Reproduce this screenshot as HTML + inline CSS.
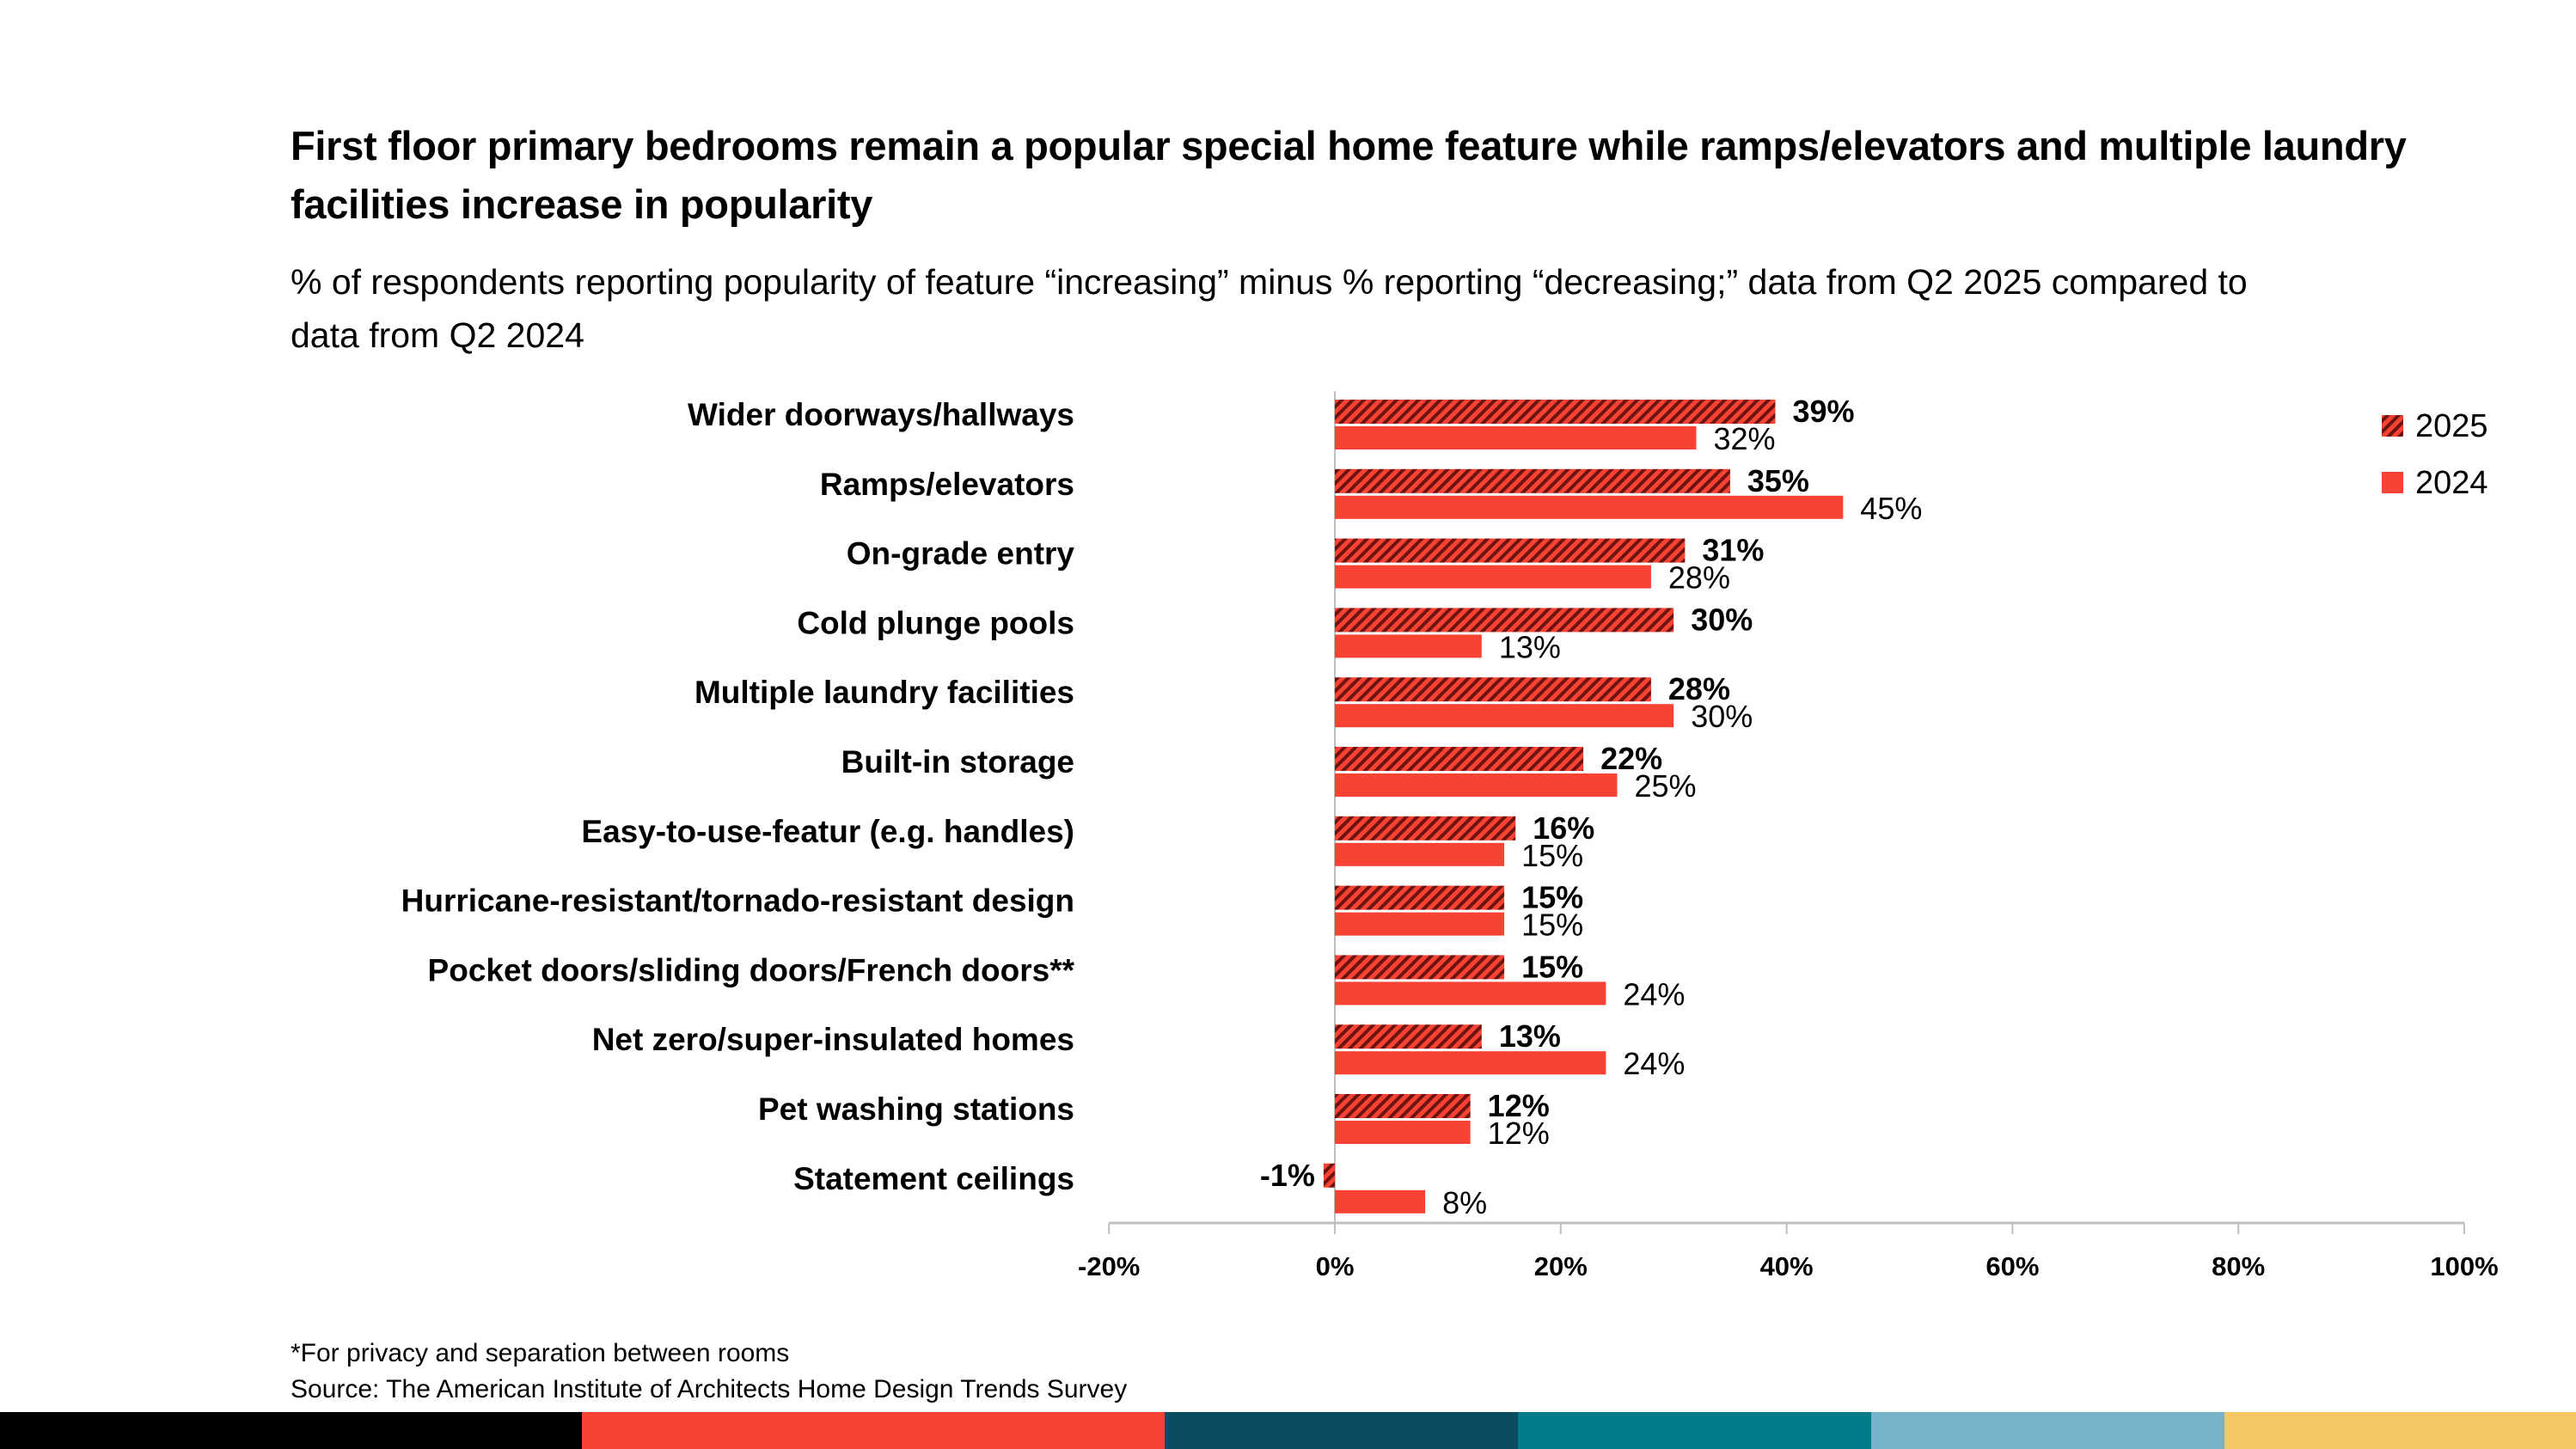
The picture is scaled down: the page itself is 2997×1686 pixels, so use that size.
<!DOCTYPE html>
<html><head><meta charset="utf-8">
<style>
html,body{margin:0;padding:0;background:#fff;}
body{width:2997px;height:1686px;position:relative;overflow:hidden;font-family:"Liberation Sans",sans-serif;}
.t{position:absolute;left:338px;color:#000;}
</style></head>
<body>
<div class="t" style="top:136px;font-size:47px;font-weight:bold;line-height:68px;letter-spacing:-0.3px;width:2640px;">First floor primary bedrooms remain a popular special home feature while ramps/elevators and multiple laundry facilities increase in popularity</div>
<div class="t" style="top:297px;font-size:41px;line-height:62px;width:2300px;">% of respondents reporting popularity of feature “increasing” minus % reporting “decreasing;” data from Q2 2025 compared to data from Q2 2024</div>
<div class="t" style="top:1558px;font-size:30px;">*For privacy and separation between rooms</div>
<div class="t" style="top:1600px;font-size:30px;">Source: The American Institute of Architects Home Design Trends Survey</div>
<div style="position:absolute;left:0;top:1643px;width:2997px;height:43px;display:flex;">
<div style="width:677px;background:#000"></div><div style="width:678px;background:#f84234"></div><div style="width:411px;background:#0a4d63"></div><div style="width:411px;background:#037b8a"></div><div style="width:411px;background:#76b2ca"></div><div style="flex:1;background:#f3c862"></div>
</div>
<svg id="chart" width="2997" height="1686" style="position:absolute;left:0;top:0" xmlns="http://www.w3.org/2000/svg">
<defs>
<pattern id="hatch" patternUnits="userSpaceOnUse" width="9" height="9" patternTransform="rotate(45)">
<rect width="9" height="9" fill="#f84234"/><rect width="4" height="9" fill="#6e1410"/>
</pattern>
</defs>
</svg>
<script>
const categories=["Wider doorways/hallways","Ramps/elevators","On-grade entry","Cold plunge pools","Multiple laundry facilities","Built-in storage","Easy-to-use-featur (e.g. handles)","Hurricane-resistant/tornado-resistant design","Pocket doors/sliding doors/French doors**","Net zero/super-insulated homes","Pet washing stations","Statement ceilings"];
const values2025=[39,35,31,30,28,22,16,15,15,13,12,-1];
const values2024=[32,45,28,13,30,25,15,15,24,24,12,8];
const ticks=[-20,0,20,40,60,80,100];
const svg=document.getElementById('chart');
const NS='http://www.w3.org/2000/svg';
const x=v=>1553+(v)*13.14;
const rowTop=i=>465+i*80.8;
const BH=28;
function mk(t,a,txt){const e=document.createElementNS(NS,t);for(const k in a)e.setAttribute(k,a[k]);if(txt!==undefined)e.textContent=txt;svg.appendChild(e);return e;}
// zero line
let zl=mk('line',{x1:x(0),x2:x(0),y1:455,y2:1423,stroke:'#bfbfbf','stroke-width':2});


// axis
let ax=mk('line',{x1:x(-20),x2:x(100),y1:1423,y2:1423,stroke:'#bfbfbf','stroke-width':3});


ticks.forEach(t=>{
 let tk=mk('line',{x1:x(t),x2:x(t),y1:1423,y2:1436,stroke:'#bfbfbf','stroke-width':2});
 
 
 let tl=mk('text',{x:x(t),y:1484,'text-anchor':'middle','font-size':31,'font-weight':'bold','font-family':'Liberation Sans, sans-serif'},t+'%');
 
 
});
categories.forEach((c,i)=>{
 const top=rowTop(i);
 let cl=mk('text',{x:1250,y:top+30,'text-anchor':'end','font-size':37,'font-weight':'bold','font-family':'Liberation Sans, sans-serif'},c);
 
 
 const a=values2025[i],b=values2024[i];
 let r1=mk('rect',{x:Math.min(x(0),x(a)),y:top,width:Math.abs(x(a)-x(0)),height:BH,fill:'url(#hatch)'});
 
 
 let r2=mk('rect',{x:Math.min(x(0),x(b)),y:top+31,width:Math.abs(x(b)-x(0)),height:BH-1,fill:'#f84234'});
 
 
 let l1=mk('text',{x:a>=0?x(a)+20:x(a)-10,y:top+26,'text-anchor':a>=0?'start':'end','font-size':36,'font-weight':'bold','font-family':'Liberation Sans, sans-serif'},a+'%');
 
 
 let l2=mk('text',{x:x(b)+20,y:top+58,'font-size':36,'font-family':'Liberation Sans, sans-serif'},b+'%');
 
 
});
// legend
let s1=mk('rect',{x:2771,y:483,width:25,height:25,fill:'url(#hatch)'});


let t1=mk('text',{x:2810,y:508,'font-size':38,'font-family':'Liberation Sans, sans-serif'},'2025');


let s2=mk('rect',{x:2771,y:549,width:25,height:25,fill:'#f84234'});


let t2=mk('text',{x:2810,y:574,'font-size':38,'font-family':'Liberation Sans, sans-serif'},'2024');


</script>
</body></html>
